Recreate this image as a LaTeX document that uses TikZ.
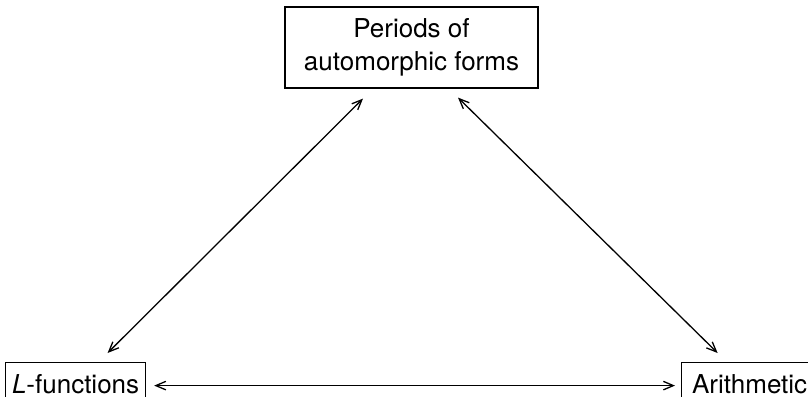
\documentclass[tikz,border=0pt]{standalone}
\usepackage{fontspec}
\setmainfont{TeX Gyre Heros}
\usetikzlibrary{arrows.meta,calc}
\begin{document}
\begin{tikzpicture}[x=1pt,y=-1pt,
  box/.style={draw,line width=1.2pt,inner sep=0pt,align=center,
    font=\fontsize{26}{33}\selectfont},
  tip/.style={Straight Barb[length=10pt,width=8.5pt]},
  link/.style={line width=1.3pt,{Straight Barb[length=10pt,width=8.5pt]}-{Straight Barb[length=10pt,width=8.5pt]}}]
\useasboundingbox (0,0) rectangle (808,396);
\clip (0,0) rectangle (808,396);
\node[box,minimum width=253pt,minimum height=81pt] (per) at (411.5,47.5)
  {Periods of\\automorphic forms};
\node[box,anchor=north west,minimum width=140pt,minimum height=46pt,text depth=4pt] (lf) at (5,362)
  {\textit{L}-functions};
\node[box,anchor=north west,minimum width=136pt,minimum height=46pt,text depth=4pt] (ar) at (681,362)
  {Arithmetic};
\draw[link] ($(per.south)+(-48.5,10)$) -- ($(lf.north)+(32,-9)$);
\draw[link] ($(per.south)+(46.5,9)$) -- ($(ar.north)+(-32,-9)$);
\draw[link] ($(lf.east)+(8,0)$) -- ($(ar.west)+(-6,0)$);
\end{tikzpicture}
\end{document}
